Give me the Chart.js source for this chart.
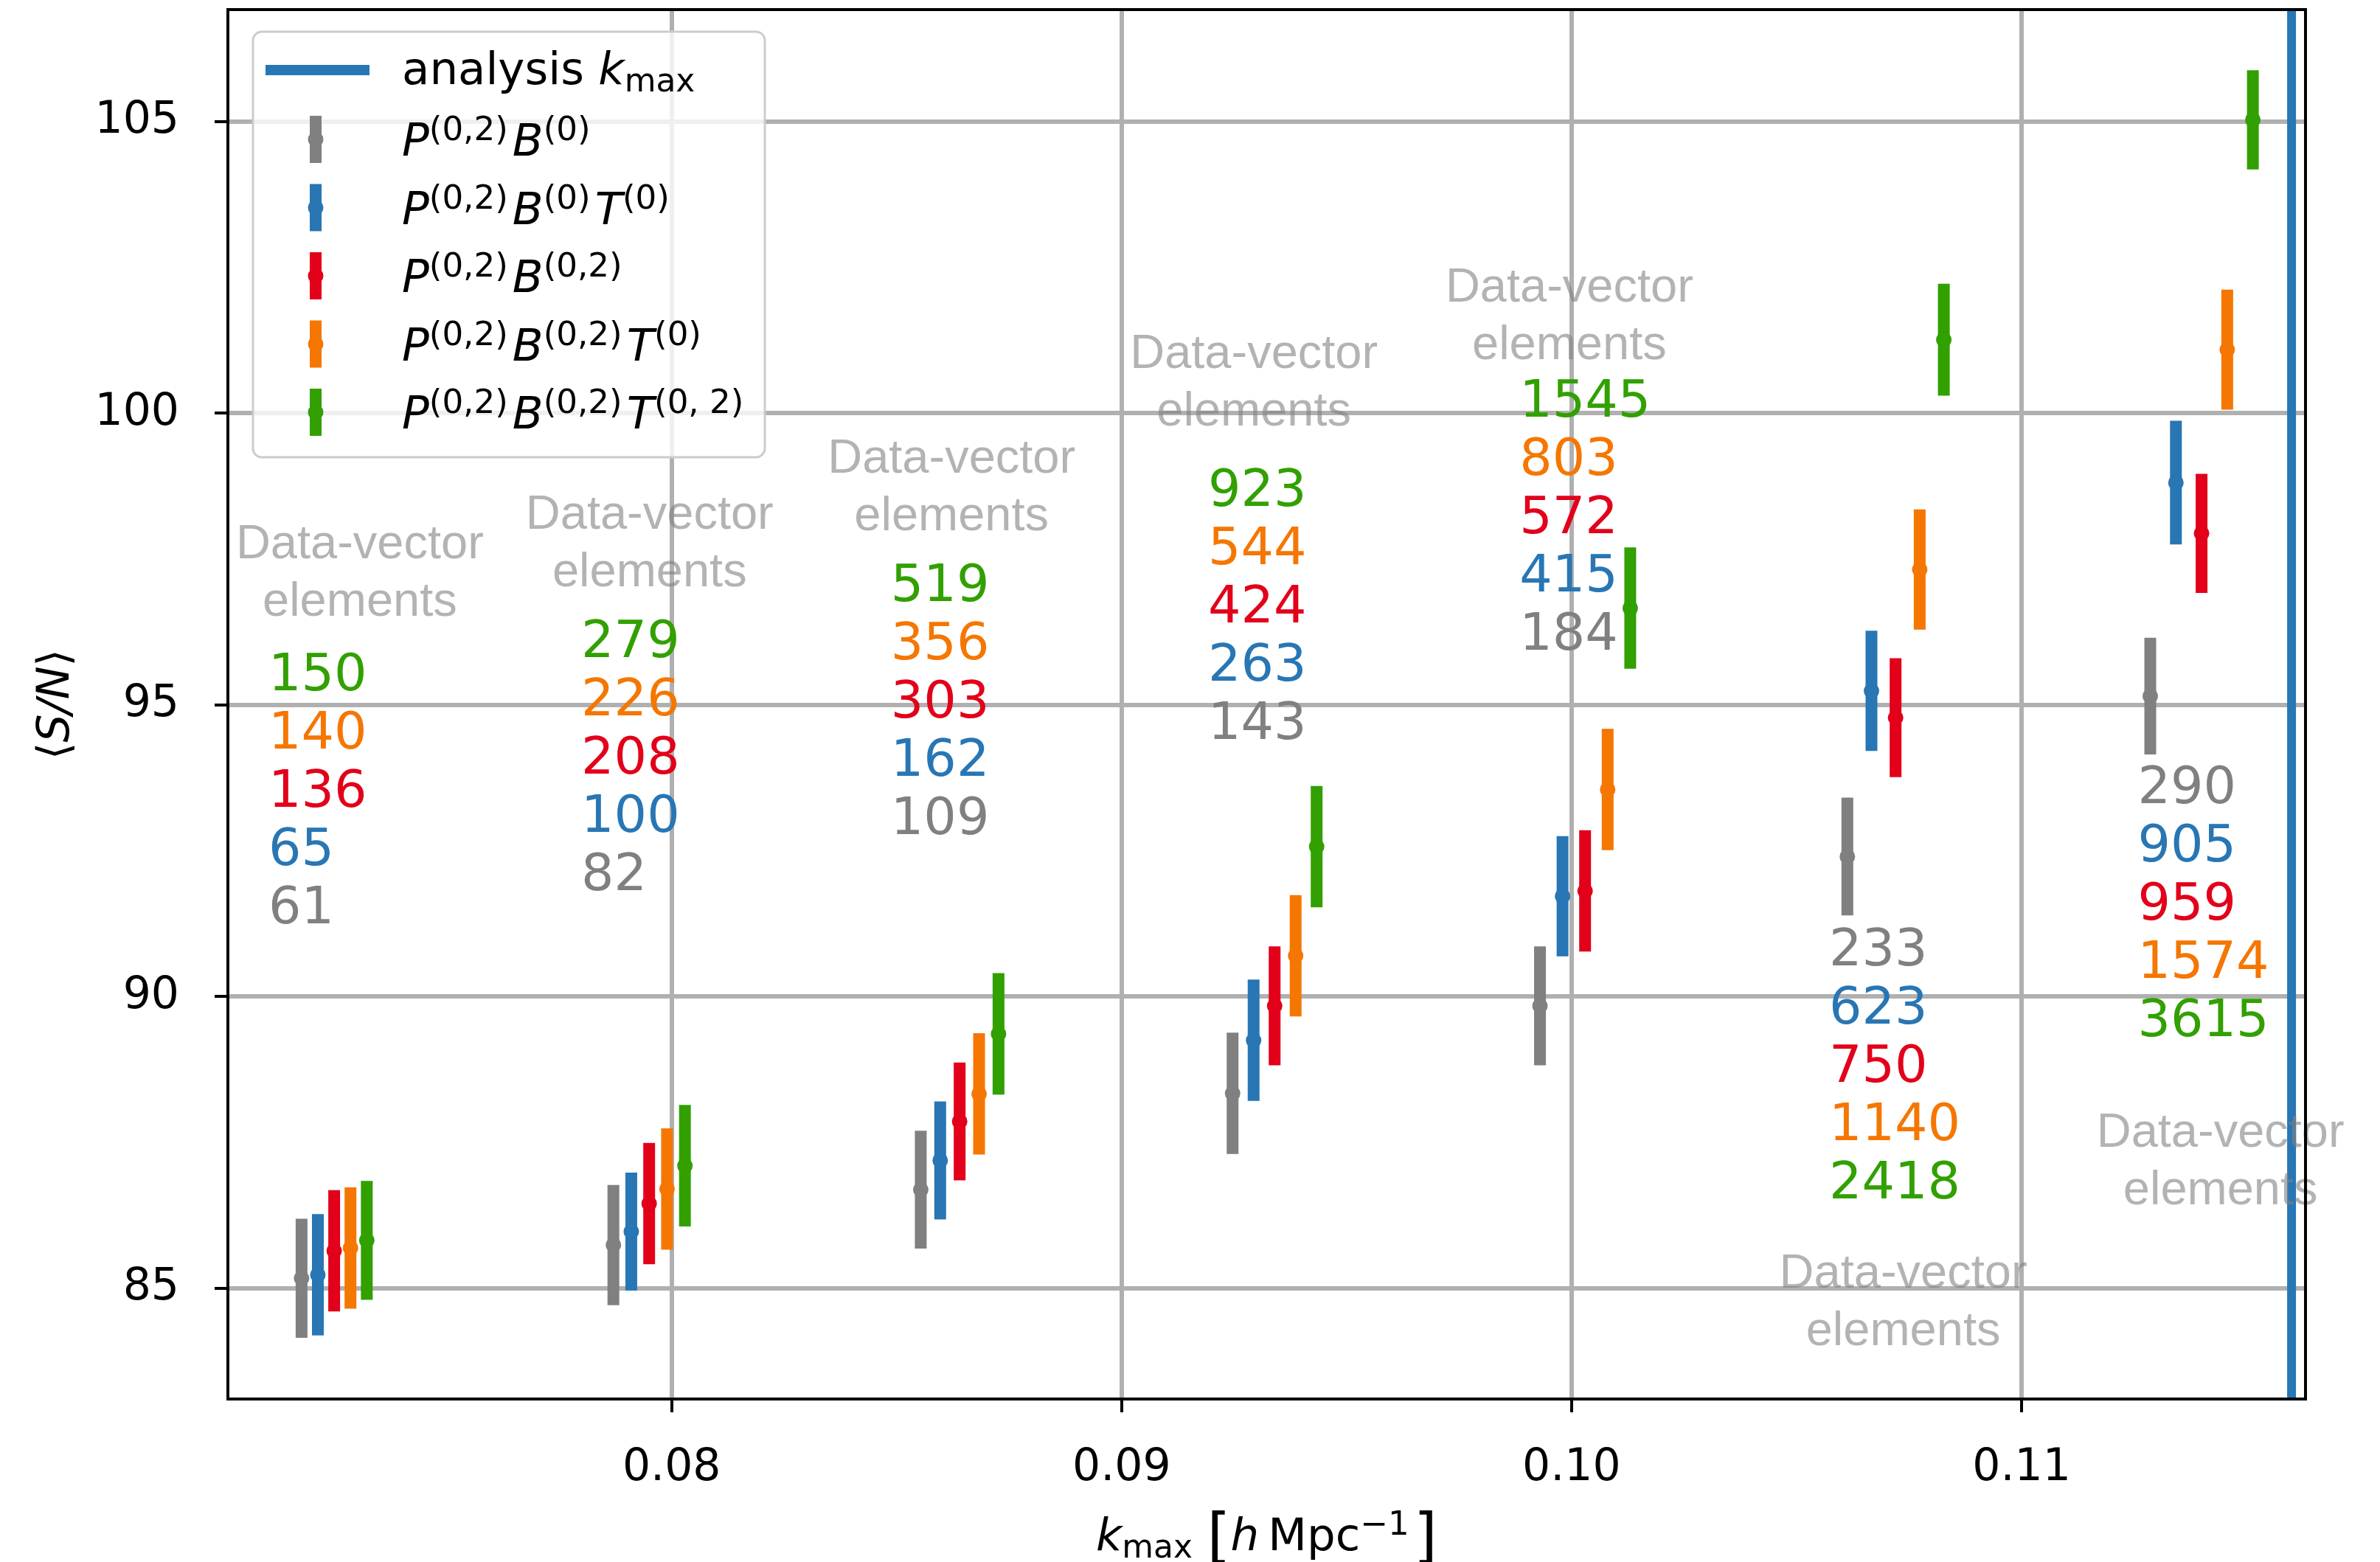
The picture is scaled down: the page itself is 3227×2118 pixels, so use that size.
<!DOCTYPE html>
<html>
<head>
<meta charset="utf-8">
<script src="https://cdn.jsdelivr.net/npm/chart.js@4.4.1/dist/chart.umd.min.js"></script>
<style>
  html, body { margin: 0; padding: 0; background: #fff; }
  canvas { display: block; }
</style>
</head>
<body>
<canvas id="myChart" width="3227" height="2118"></canvas>
<script>
// k_max of each step (where the middle series sits)
var kmax = [0.0725, 0.0795, 0.0864, 0.0934, 0.1003, 0.1072, 0.1140];
var analysisKmax = 0.116;

// <S/N> and 1-sigma errors per data combination
var snP02B0      = [85.17, 85.74, 86.69, 88.34, 89.84, 92.40, 95.15];
var errP02B0     = [1.02, 1.03, 1.01, 1.04, 1.02, 1.01, 1.00];
var snP02B0T0    = [85.23, 85.97, 87.19, 89.25, 91.72, 95.24, 98.81];
var errP02B0T0   = [1.04, 1.01, 1.01, 1.04, 1.03, 1.03, 1.06];
var snP02B02     = [85.64, 86.45, 87.86, 89.84, 91.81, 94.78, 97.94];
var errP02B02    = [1.04, 1.04, 1.01, 1.02, 1.04, 1.02, 1.02];
var snP02B02T0   = [85.69, 86.70, 88.33, 90.70, 93.55, 97.32, 101.09];
var errP02B02T0  = [1.04, 1.04, 1.04, 1.04, 1.04, 1.03, 1.03];
var snP02B02T02  = [85.82, 87.10, 89.36, 92.57, 96.66, 101.26, 105.03];
var errP02B02T02 = [1.02, 1.04, 1.04, 1.04, 1.04, 0.96, 0.85];

// number of data-vector elements
var nP02B0      = [61, 82, 109, 143, 184, 233, 290];
var nP02B0T0    = [65, 100, 162, 263, 415, 623, 905];
var nP02B02     = [136, 208, 303, 424, 572, 750, 959];
var nP02B02T0   = [140, 226, 356, 544, 803, 1140, 1574];
var nP02B02T02  = [150, 279, 519, 923, 1545, 2418, 3615];

var xTicks = [0.08, 0.09, 0.10, 0.11];
var yTicks = [85, 90, 95, 100, 105];

// ---- layout / style (not data) ----
var xMin = 0.070138, xMax = 0.11631;
var yMin = 83.10, yMax = 106.92;
var dodge = [-0.01, -0.005, 0, 0.005, 0.01];   // relative x shift so bars don't overlap
// where the "Data-vector elements" notes go (data coords)
var headX = [0.07307, 0.07951, 0.08622, 0.09294, 0.09995, 0.10737, 0.11442];
var headY = [97.74, 98.25, 99.21, 101.00, 102.14, 85.24, 87.65];
var numX  = [0.07104, 0.07799, 0.08487, 0.09192, 0.09884, 0.10572, 0.11258];
var numY  = [95.48, 96.05, 97.01, 98.64, 100.17, 90.76, 93.54];

var FONT = '"DejaVu Sans"';

function sup(t) { return {t: t, k: 'sup'}; }
function it(t) { return {t: t, k: 'i'}; }

var series = [
  {sn: snP02B0, err: errP02B0, n: nP02B0, color: '#808080',
   label: [it('P'), sup('(0,2)'), it('B'), sup('(0)')]},
  {sn: snP02B0T0, err: errP02B0T0, n: nP02B0T0, color: '#2876b4',
   label: [it('P'), sup('(0,2)'), it('B'), sup('(0)'), it('T'), sup('(0)')]},
  {sn: snP02B02, err: errP02B02, n: nP02B02, color: '#e2001a',
   label: [it('P'), sup('(0,2)'), it('B'), sup('(0,2)')]},
  {sn: snP02B02T0, err: errP02B02T0, n: nP02B02T0, color: '#f57600',
   label: [it('P'), sup('(0,2)'), it('B'), sup('(0,2)'), it('T'), sup('(0)')]},
  {sn: snP02B02T02, err: errP02B02T02, n: nP02B02T02, color: '#31a000',
   label: [it('P'), sup('(0,2)'), it('B'), sup('(0,2)'), it('T'), sup('(0, 2)')]}
];

var datasets = [];
series.forEach(function(s, i) {
  var bars = [], pts = [];
  kmax.forEach(function(k, g) {
    var x = k * (1 + dodge[i]);
    bars.push({x: x, y: s.sn[g] - s.err[g]}, {x: x, y: s.sn[g] + s.err[g]}, {x: x, y: null});
    pts.push({x: x, y: s.sn[g]});
  });
  datasets.push({type: 'line', data: bars, borderColor: s.color, borderWidth: 16,
                 borderCapStyle: 'butt', pointRadius: 0, spanGaps: false, order: 10 - i});
  datasets.push({type: 'scatter', data: pts, backgroundColor: s.color, borderWidth: 0,
                 pointRadius: 10.5, order: 5 - i});
});
datasets.push({type: 'line', data: [{x: analysisKmax, y: yMin}, {x: analysisKmax, y: yMax}],
               borderColor: '#2876b4', borderWidth: 12, pointRadius: 0, order: 0});

// draws a run of text with italics / super- / subscripts, returns the width
function rich(ctx, parts, x, y, size, measureOnly) {
  var w = 0;
  parts.forEach(function(p) {
    var fs = size, dy = 0, style = '';
    if (p.k === 'i') style = 'italic ';
    if (p.k === 'sup') { fs = size * 0.74; dy = -size * 0.34; }
    if (p.k === 'sub') { fs = size * 0.72; dy = size * 0.17; }
    if (p.k === 'big') { fs = size * 1.35; dy = size * 0.13; }
    ctx.font = style + fs + 'px ' + FONT;
    if (!measureOnly) ctx.fillText(p.t, x + w, y + dy);
    w += ctx.measureText(p.t).width;
    if (p.k === 'sup') w += size * 0.1;
  });
  return w;
}

var extras = {
  id: 'extras',
  afterDatasetsDraw: function(chart) {
    var ctx = chart.ctx, xs = chart.scales.x, ys = chart.scales.y, a = chart.chartArea;
    ctx.save();
    ctx.textBaseline = 'middle';
    for (var g = 0; g < kmax.length; g++) {
      ctx.font = '65px "Liberation Sans"';
      ctx.fillStyle = 'rgba(128,128,128,0.6)';
      ctx.textAlign = 'center';
      var hx = xs.getPixelForValue(headX[g]), hy = ys.getPixelForValue(headY[g]);
      ctx.fillText('Data-vector', hx, hy);
      ctx.fillText('elements', hx, hy + 78);

      var order = g < 5 ? [4, 3, 2, 1, 0] : [0, 1, 2, 3, 4];
      ctx.font = '70px ' + FONT;
      ctx.textAlign = 'left';
      var nx = xs.getPixelForValue(numX[g]), ny = ys.getPixelForValue(numY[g]);
      order.forEach(function(s, i) {
        ctx.fillStyle = series[s].color;
        ctx.fillText(String(series[s].n[g]), nx, ny + i * 79);
      });
    }
    // axes frame
    ctx.strokeStyle = '#000';
    ctx.lineWidth = 4;
    ctx.strokeRect(a.left, a.top, a.right - a.left, a.bottom - a.top);
    ctx.restore();
  },
  afterDraw: function(chart) {
    var ctx = chart.ctx, a = chart.chartArea;
    ctx.save();
    ctx.textBaseline = 'alphabetic';
    ctx.textAlign = 'left';
    ctx.fillStyle = '#000';

    // legend
    var bx = a.left + 34, by = a.top + 30, bw = 694, bh = 577;
    ctx.beginPath();
    ctx.roundRect(bx, by, bw, bh, 12);
    ctx.fillStyle = 'rgba(255,255,255,0.8)';
    ctx.fill();
    ctx.strokeStyle = '#cccccc';
    ctx.lineWidth = 3;
    ctx.stroke();

    var symX = bx + 85, txtX = bx + 202;
    var cy = by + 52;
    ctx.strokeStyle = '#2876b4';
    ctx.lineWidth = 14;
    ctx.beginPath(); ctx.moveTo(bx + 17, cy); ctx.lineTo(bx + 158, cy); ctx.stroke();
    ctx.fillStyle = '#000';
    rich(ctx, [{t: 'analysis ', k: 'r'}, it('k'), {t: 'max', k: 'sub'}], txtX, cy + 19, 61);

    series.forEach(function(s, i) {
      var y = by + 146 + i * 92.5;
      ctx.strokeStyle = s.color;
      ctx.lineWidth = 16;
      ctx.beginPath(); ctx.moveTo(symX, y - 32); ctx.lineTo(symX, y + 32); ctx.stroke();
      ctx.fillStyle = s.color;
      ctx.beginPath(); ctx.arc(symX, y, 10.5, 0, Math.PI * 2); ctx.fill();
      ctx.fillStyle = '#000';
      rich(ctx, s.label, txtX, y + 22, 61);
    });

    // x title
    var xt = [it('k'), {t: 'max', k: 'sub'}, {t: ' ', k: 'r'}, {t: '[', k: 'big'}, it('h'),
              {t: '\u2009Mpc', k: 'r'}, sup('\u22121'), {t: ']', k: 'big'}];
    var w = rich(ctx, xt, 0, 0, 61, true);
    rich(ctx, xt, (a.left + a.right) / 2 - w / 2, 2102, 61);

    // y title
    ctx.translate(72, (a.top + a.bottom) / 2);
    ctx.rotate(-Math.PI / 2);
    var yt = [{t: '\u27e8', k: 'r'}, it('S/N'), {t: '\u27e9', k: 'r'}];
    w = rich(ctx, yt, 0, 0, 60, true);
    rich(ctx, yt, -w / 2, 21, 60);
    ctx.restore();
  }
};

new Chart(document.getElementById('myChart'), {
  data: {datasets: datasets},
  options: {
    responsive: false,
    animation: false,
    events: [],
    layout: {padding: {left: 0, top: 13, right: 101, bottom: 0}},
    plugins: {legend: {display: false}, tooltip: {enabled: false}},
    scales: {
      x: {
        type: 'linear', min: xMin, max: xMax,
        afterBuildTicks: function(scale) { scale.ticks = xTicks.map(function(v) { return {value: v}; }); },
        afterFit: function(scale) {
          scale.height = 221;
          scale.paddingLeft = 0; scale.paddingRight = 0;
        },
        grid: {color: '#b0b0b0', lineWidth: 6, tickLength: 18, tickColor: '#000', tickWidth: 4},
        border: {display: false},
        ticks: {padding: 40, color: '#000', font: {family: 'DejaVu Sans', size: 60},
                maxRotation: 0, callback: function(v) { return v.toFixed(2); }}
      },
      y: {
        type: 'linear', min: yMin, max: yMax,
        afterBuildTicks: function(scale) { scale.ticks = yTicks.map(function(v) { return {value: v}; }); },
        afterFit: function(scale) {
          scale.width = 309;
          scale.paddingTop = 0; scale.paddingBottom = 0;
        },
        grid: {color: '#b0b0b0', lineWidth: 6, tickLength: 18, tickColor: '#000', tickWidth: 4},
        border: {display: false},
        ticks: {padding: 48, color: '#000', font: {family: 'DejaVu Sans', size: 60},
                callback: function(v) { return String(v); }}
      }
    }
  },
  plugins: [extras]
});
</script>
</body>
</html>
